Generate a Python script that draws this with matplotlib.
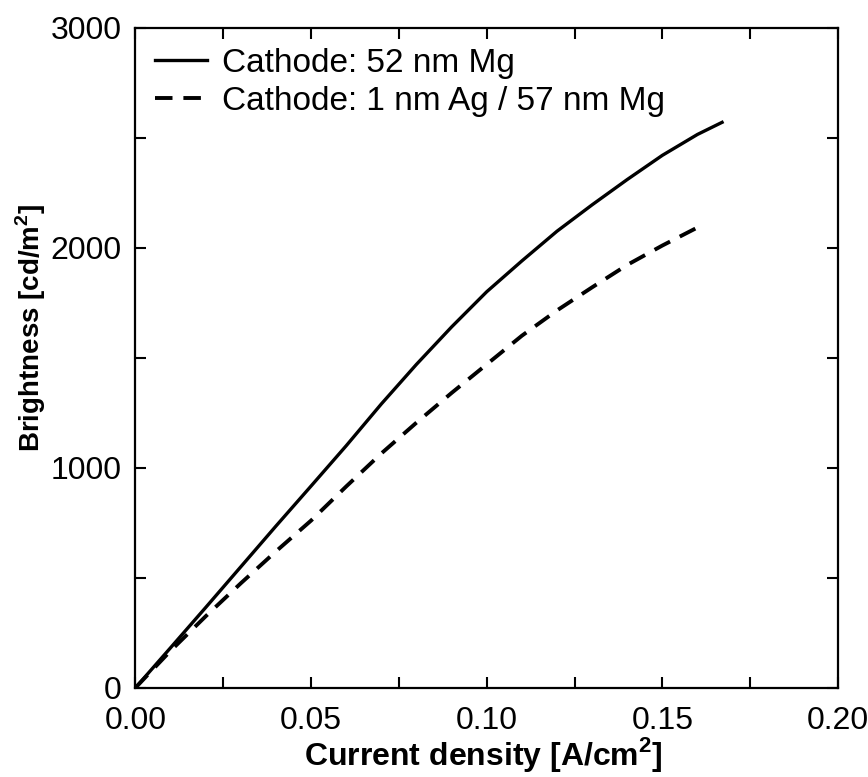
import matplotlib
matplotlib.use('Agg')
import matplotlib.pyplot as plt
from matplotlib.ticker import MultipleLocator, FormatStrFormatter

plt.rcParams['font.family'] = ['Liberation Sans', 'DejaVu Sans']
plt.rcParams['mathtext.fontset'] = 'custom'
plt.rcParams['mathtext.rm'] = 'Liberation Sans'
plt.rcParams['mathtext.bf'] = 'Liberation Sans:bold'

# Cathode: 52 nm Mg
current_mg = [0, 0.01, 0.02, 0.03, 0.04, 0.05, 0.06, 0.07, 0.08, 0.09,
              0.10, 0.11, 0.12, 0.13, 0.14, 0.15, 0.16, 0.167]
bright_mg = [0, 182, 365, 550, 735, 917, 1100, 1290, 1470, 1640,
             1800, 1940, 2075, 2195, 2310, 2420, 2515, 2570]

# Cathode: 1 nm Ag / 57 nm Mg
current_agmg = [0, 0.01, 0.02, 0.03, 0.04, 0.05, 0.06, 0.07, 0.08, 0.09,
                0.10, 0.11, 0.12, 0.13, 0.14, 0.15, 0.16]
bright_agmg = [0, 168, 325, 475, 620, 760, 915, 1065, 1205, 1340,
               1470, 1600, 1715, 1820, 1922, 2010, 2092]

labels = ['Cathode: 52 nm Mg', 'Cathode: 1 nm Ag / 57 nm Mg']

fig = plt.figure(figsize=(8.68, 7.77), dpi=100)
ax = fig.add_axes([0.1561, 0.1149, 0.8093, 0.8494])

ax.plot(current_mg, bright_mg, c='black', linewidth=2.4, label=labels[0])
line, = ax.plot(current_agmg, bright_agmg, c='black', linewidth=2.8, label=labels[1])
line.set_dashes([4.5, 2.8])

ax.set_xlim(0, 0.2)
ax.set_ylim(0, 3000)
ax.xaxis.set_major_locator(MultipleLocator(0.05))
ax.xaxis.set_minor_locator(MultipleLocator(0.025))
ax.yaxis.set_major_locator(MultipleLocator(1000))
ax.yaxis.set_minor_locator(MultipleLocator(500))
ax.xaxis.set_major_formatter(FormatStrFormatter('%.2f'))

ax.tick_params(which='both', direction='in', top=True, right=True,
               labelsize=23, width=1.5)
ax.tick_params(which='major', length=8)
ax.tick_params(axis='x', which='major', pad=13)
ax.tick_params(axis='y', which='major', pad=10)
ax.tick_params(which='minor', length=8)
for s in ax.spines.values():
    s.set_linewidth(1.6)

ax.set_xlabel(r'Current density [A/cm$^\mathbf{2}$]', fontsize=23,
              fontweight='bold')
ax.set_ylabel(r'Brightness [cd/m$^\mathbf{2}$]', fontsize=20,
              fontweight='bold')
ax.xaxis.set_label_coords(0.495, -0.072)
ax.yaxis.set_label_coords(-0.125, 0.545)

ax.legend(loc='upper left', frameon=False, fontsize=24, handlelength=1.55,
          handletextpad=0.45, borderaxespad=0.2, labelspacing=0.22,
          borderpad=0.4)

plt.savefig('out.png', dpi=100)
